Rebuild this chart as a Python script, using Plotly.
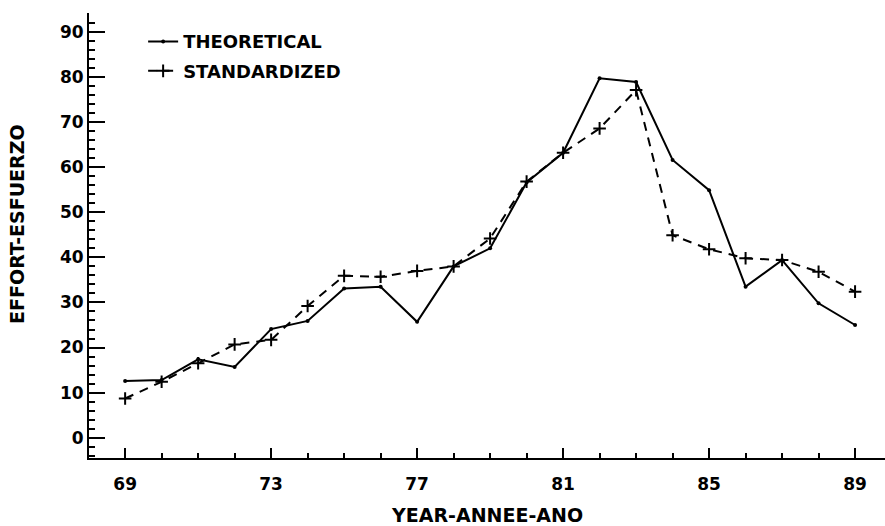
import plotly.graph_objects as go

years = list(range(69, 90))
theoretical = [12.6, 12.8, 17.4, 15.7, 24.1, 25.9, 33.1, 33.5, 25.7, 38.0, 42.0,
               56.6, 63.2, 79.7, 78.9, 61.6, 54.9, 33.5, 39.4, 29.8, 25.0]
standardized = [8.7, 12.4, 16.5, 20.7, 21.7, 29.2, 35.9, 35.7, 37.0, 38.0, 44.2,
                56.8, 63.2, 68.6, 77.1, 44.9, 41.8, 39.8, 39.4, 36.8, 32.4]
x_tickvals = [69, 73, 77, 81, 85, 89]
x_ticktext = ["69", "73", "77", "81", "85", "89"]
y_tickvals = [0, 10, 20, 30, 40, 50, 60, 70, 80, 90]

FONT = "DejaVu Sans"

fig = go.Figure()
fig.add_trace(go.Scatter(
    x=years, y=theoretical, mode="lines+markers", name="THEORETICAL",
    legendgroup="a",
    line=dict(color="black", width=2),
    marker=dict(symbol="circle", size=4, color="black"),
))
fig.add_trace(go.Scatter(
    x=years, y=standardized, mode="lines+markers", name="STANDARDIZED",
    legendgroup="b",
    line=dict(color="black", width=2, dash="9px,7px"),
    marker=dict(symbol="cross-thin", size=9, line=dict(color="black", width=2)),
))

fig.update_layout(
    width=885, height=526,
    margin=dict(l=89, r=0, t=13, b=68),
    paper_bgcolor="white", plot_bgcolor="white",
    font=dict(family=FONT, size=16, color="black", weight="bold"),
    showlegend=True,
    legend=dict(x=0.068, y=0.977, xanchor="left", yanchor="top",
                bgcolor="rgba(0,0,0,0)", font=dict(family=FONT, size=18, weight="bold"),
                traceorder="grouped", tracegroupgap=3, itemwidth=30),
    xaxis=dict(
        range=[68.01, 89.82], showgrid=False, zeroline=False,
        showline=True, linecolor="black", linewidth=2,
        tickmode="array", tickvals=x_tickvals, ticktext=x_ticktext,
        ticks="inside", ticklen=10, tickwidth=2, tickcolor="black",
        minor=dict(dtick=1, tick0=69, ticks="inside", ticklen=5, tickwidth=2, tickcolor="black", showgrid=False),
        tickfont=dict(family=FONT, size=17, weight="bold"),
        ticklabelstandoff=10,
    ),
    yaxis=dict(
        range=[-4.5, 94.2], showgrid=False, zeroline=False,
        showline=True, linecolor="black", linewidth=2,
        tickmode="array", tickvals=y_tickvals,
        ticks="inside", ticklen=16, tickwidth=2, tickcolor="black",
        minor=dict(dtick=2, tick0=0, ticks="inside", ticklen=6, tickwidth=1.5, tickcolor="black", showgrid=False),
        tickfont=dict(family=FONT, size=17, weight="bold"),
    ),
    annotations=[
        dict(text="YEAR-ANNEE-ANO", xref="paper", yref="paper", x=0.5, y=-0.128,
             xanchor="center", yanchor="middle", showarrow=False,
             font=dict(family=FONT, size=19, weight="bold")),
        dict(text="EFFORT-ESFUERZO", xref="paper", yref="paper", x=-0.0905, y=0.526,
             xanchor="center", yanchor="middle", showarrow=False, textangle=-90,
             font=dict(family=FONT, size=19, weight="bold")),
    ],
)

fig.write_html("out.html")
